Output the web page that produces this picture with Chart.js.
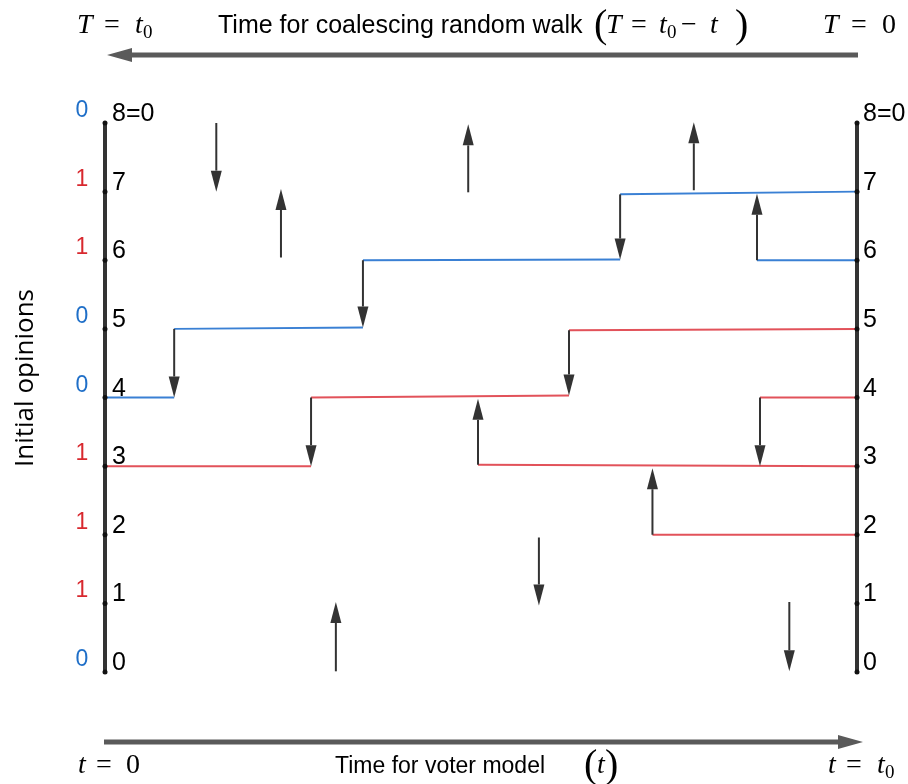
<!DOCTYPE html>
<html>
<head>
<meta charset="utf-8">
<script src="https://cdn.jsdelivr.net/npm/chart.js@4"></script>
<style>
body { margin: 0; background: #fff; }
</style>
</head>
<body>
<canvas id="chart" width="908" height="784"></canvas>
<script>
// sites (levels) and the opinions they hold at t = 0
const levels = [0, 1, 2, 3, 4, 5, 6, 7, 8];
const levelLabels = ['0', '1', '2', '3', '4', '5', '6', '7', '8=0'];
const initialOpinions = [0, 1, 1, 1, 0, 0, 1, 1, 0];

// voter model arrows: time as fraction of t0, from level, to level
const arrowT    = [0.148, 0.234, 0.483, 0.783, 0.343, 0.685, 0.867, 0.092, 0.617, 0.274, 0.496, 0.871, 0.728, 0.577, 0.307, 0.910];
const arrowFrom = [8,     6.04,  6.99,  7.02,  6,     6.96,  6,     5,     4.98,  4,     3.02,  4,     2,     1.96,  0.01,  1.02];
const arrowTo   = [7,     7.04,  7.98,  8.01,  5.02,  6.01,  6.97,  4,     4.03,  3,     3.98,  3,     2.97,  0.97,  1.02,  0.01];

// coalescing walks holding opinion 0 (blue)
const blueStart = [0, 0.092, 0.343, 0.685, 0.867];
const blueEnd   = [0.092, 0.343, 0.685, 1, 1];
const blueY0    = [4, 5, 6, 6.96, 6];
const blueY1    = [4, 5.02, 6.01, 7, 6];

// coalescing walks holding opinion 1 (red)
const redStart = [0, 0.274, 0.617, 0.496, 0.871, 0.728];
const redEnd   = [0.274, 0.617, 1, 1, 1, 1];
const redY0    = [3, 4, 4.98, 3.02, 4, 2];
const redY1    = [3, 4.03, 5, 3, 4, 2];

const BLUE = '#3a80d4';
const RED = '#e2525a';
const DARK = '#333333';

function segments(starts, ends, y0, y1, color) {
	return starts.map((s, i) => ({
		data: [{ x: s, y: y0[i] }, { x: ends[i], y: y1[i] }],
		borderColor: color,
		borderWidth: 2,
		pointRadius: 0,
		showLine: true,
		clip: false
	}));
}

function timeLine(t) {
	return {
		data: levels.map(v => ({ x: t, y: v })),
		borderColor: DARK,
		borderWidth: 4,
		pointRadius: 2.5,
		pointBorderWidth: 0,
		pointBackgroundColor: '#111',
		showLine: true,
		clip: false
	};
}

function arrow(ctx, x1, y1, x2, y2, len, half, width, color) {
	const a = Math.atan2(y2 - y1, x2 - x1);
	const bx = x2 - len * Math.cos(a), by = y2 - len * Math.sin(a);
	ctx.strokeStyle = color;
	ctx.fillStyle = color;
	ctx.lineWidth = width;
	ctx.beginPath();
	ctx.moveTo(x1, y1);
	ctx.lineTo(bx, by);
	ctx.stroke();
	ctx.beginPath();
	ctx.moveTo(x2, y2);
	ctx.lineTo(bx + half * Math.sin(a), by - half * Math.cos(a));
	ctx.lineTo(bx - half * Math.sin(a), by + half * Math.cos(a));
	ctx.closePath();
	ctx.fill();
}

// pieces of math text: [text, x, italic, size, dy]
function math(ctx, y, parts) {
	ctx.fillStyle = '#000';
	ctx.textAlign = 'left';
	ctx.textBaseline = 'alphabetic';
	parts.forEach(([txt, x, it, size, dy]) => {
		ctx.font = (it ? 'italic ' : '') + size + 'px "Liberation Serif"';
		ctx.fillText(txt, x, y + (dy || 0));
	});
}

const arrowsPlugin = {
	id: 'arrows',
	afterDatasetsDraw(chart) {
		const { ctx, scales: { x, y } } = chart;
		ctx.save();
		arrowT.forEach((t, i) => {
			const px = x.getPixelForValue(t);
			arrow(ctx, px, y.getPixelForValue(arrowFrom[i]), px, y.getPixelForValue(arrowTo[i]), 21, 5.5, 2, DARK);
		});
		ctx.restore();
	}
};

const labelsPlugin = {
	id: 'labels',
	afterDraw(chart) {
		const { ctx, chartArea: ca, scales: { x, y } } = chart;
		ctx.save();
		ctx.textBaseline = 'alphabetic';
		// level numbers on both time lines
		ctx.font = '25px "Liberation Sans"';
		ctx.fillStyle = '#000';
		ctx.textAlign = 'left';
		levels.forEach((v, i) => {
			const py = y.getPixelForValue(v) - 2;
			ctx.fillText(levelLabels[i], x.getPixelForValue(0) + 7, py);
			ctx.fillText(levelLabels[i], x.getPixelForValue(1) + 6, py);
		});
		// initial opinions
		ctx.font = '23px "Liberation Sans"';
		ctx.textAlign = 'center';
		levels.forEach((v, i) => {
			ctx.fillStyle = initialOpinions[i] ? '#d8282e' : '#1f6fc8';
			ctx.fillText(String(initialOpinions[i]), ca.left - 23, y.getPixelForValue(v) - 6);
		});
		// axis title
		ctx.save();
		ctx.translate(33, 378);
		ctx.rotate(-Math.PI / 2);
		ctx.fillStyle = '#000';
		ctx.font = '26px "Open Sans"';
		ctx.fillText('Initial opinions', 0, 0);
		ctx.restore();

		// top: coalescing random walk time, runs right to left
		arrow(ctx, ca.right + 1, 55, ca.left + 2, 55, 25, 7, 5, '#5a5a5a');
		ctx.fillStyle = '#000';
		ctx.textAlign = 'left';
		ctx.font = '25px "Liberation Sans"';
		ctx.fillText('Time for coalescing random walk', 218, 33);
		math(ctx, 33, [['(', 594, false, 40, 4], ['T', 606, true, 28], ['=', 631, false, 28], ['t', 659, true, 28], ['0', 667, false, 19, 5],
			['\u2212', 681, false, 28], ['t', 710, true, 28], [')', 735, false, 40, 4]]);
		math(ctx, 33, [['T', 77, true, 28], ['=', 104, false, 28], ['t', 135, true, 28], ['0', 143, false, 19, 5]]);
		math(ctx, 33, [['T', 823, true, 28], ['=', 851, false, 28], ['0', 882, false, 28]]);

		// bottom: voter model time, runs left to right
		arrow(ctx, ca.left - 1, 742, ca.right + 6, 742, 25, 7, 5, '#5a5a5a');
		ctx.fillStyle = '#000';
		ctx.font = '23px "Liberation Sans"';
		ctx.fillText('Time for voter model', 335, 773);
		math(ctx, 773, [['t', 78, true, 28], ['=', 96, false, 28], ['0', 126, false, 28]]);
		math(ctx, 773, [['(', 584, false, 40, 4], ['t', 597, true, 28], [')', 605, false, 40, 4]]);
		math(ctx, 773, [['t', 828, true, 28], ['=', 846, false, 28], ['t', 877, true, 28], ['0', 885, false, 19, 5]]);
		ctx.restore();
	}
};

const datasets = [
	timeLine(0),
	timeLine(1),
	...segments(blueStart, blueEnd, blueY0, blueY1, BLUE),
	...segments(redStart, redEnd, redY0, redY1, RED)
];

new Chart(document.getElementById('chart'), {
	type: 'scatter',
	data: { datasets },
	options: {
		responsive: false,
		animation: false,
		layout: { padding: { left: 105, right: 51, top: 123, bottom: 112 } },
		scales: {
			x: { type: 'linear', min: 0, max: 1, display: false },
			y: { type: 'linear', min: 0, max: 8, display: false }
		},
		plugins: {
			legend: { display: false },
			tooltip: { enabled: false }
		}
	},
	plugins: [arrowsPlugin, labelsPlugin]
});
</script>
</body>
</html>
